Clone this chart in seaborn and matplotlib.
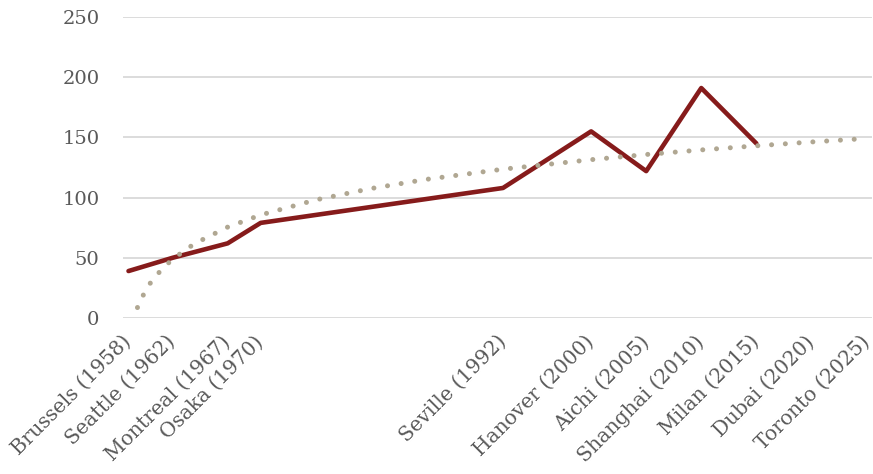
import matplotlib
matplotlib.use("Agg")
import matplotlib.pyplot as plt
import seaborn as sns
import pandas as pd

# Actual values (solid line)
expo_years = [1958, 1962, 1967, 1970, 1992, 2000, 2005, 2010, 2015]
expo_values = [39, 50, 62, 79, 108, 155, 122, 191, 145]

# Trend line (dotted)
trend_years = [1958, 1959, 1960, 1961, 1962, 1964, 1967, 1970, 1975, 1980,
               1985, 1992, 2000, 2005, 2010, 2015, 2020, 2025]
trend_values = [-13, 13.7, 29.3, 40.3, 48.9, 61.8, 75.5, 85.6, 98.1, 107.5,
                115.1, 123.6, 131.5, 135.8, 139.6, 143.0, 146.2, 149.1]

# Axis labels
tick_years = [1958, 1962, 1967, 1970, 1992, 2000, 2005, 2010, 2015, 2020, 2025]
tick_labels = ["Brussels (1958)", "Seattle (1962)", "Montreal (1967)", "Osaka (1970)",
               "Seville (1992)", "Hanover (2000)", "Aichi (2005)", "Shanghai (2010)",
               "Milan (2015)", "Dubai (2020)", "Toronto (2025)"]
y_ticks = [0, 50, 100, 150, 200, 250]

sns.set_theme(style="white")
plt.rcParams["font.family"] = ["DejaVu Serif"]

text_color = "#595959"
grid_color = "#D9D9D9"
line_color = "#861B1B"
trend_color = "#B0A792"

fig = plt.figure(figsize=(8.73, 4.74), dpi=100)
ax = fig.add_axes([123 / 873, 1 - 318 / 474, (872 - 123) / 873, (318 - 17) / 474])

df_main = pd.DataFrame({"year": expo_years, "value": expo_values})
df_trend = pd.DataFrame({"year": trend_years, "value": trend_values})

for yv in y_ticks:
    ax.axhline(yv, color=grid_color, linewidth=1.3, zorder=0)

sns.lineplot(data=df_main, x="year", y="value", ax=ax, color=line_color,
             linewidth=3.3, solid_joinstyle="round", solid_capstyle="round", zorder=3)
sns.lineplot(data=df_trend, x="year", y="value", ax=ax, color=trend_color,
             linewidth=3.6, linestyle=(0, (0.01, 2.75)), dash_capstyle="round", zorder=4)

ax.set_xlim(1957.5, 2025.5)
ax.set_ylim(0, 250)
ax.set_yticks(y_ticks)
ax.set_yticklabels([str(v) for v in y_ticks], color=text_color, fontsize=14)
ax.set_xticks(tick_years)
ax.set_xticklabels(tick_labels, rotation=45, ha="right", va="center",
                   rotation_mode="anchor", color=text_color, fontsize=14.5)
ax.tick_params(axis="y", length=0, pad=17)
ax.tick_params(axis="x", length=0, pad=15)
ax.set_xlabel("")
ax.set_ylabel("")
for s in ax.spines.values():
    s.set_visible(False)

fig.savefig("out.png", dpi=100)
